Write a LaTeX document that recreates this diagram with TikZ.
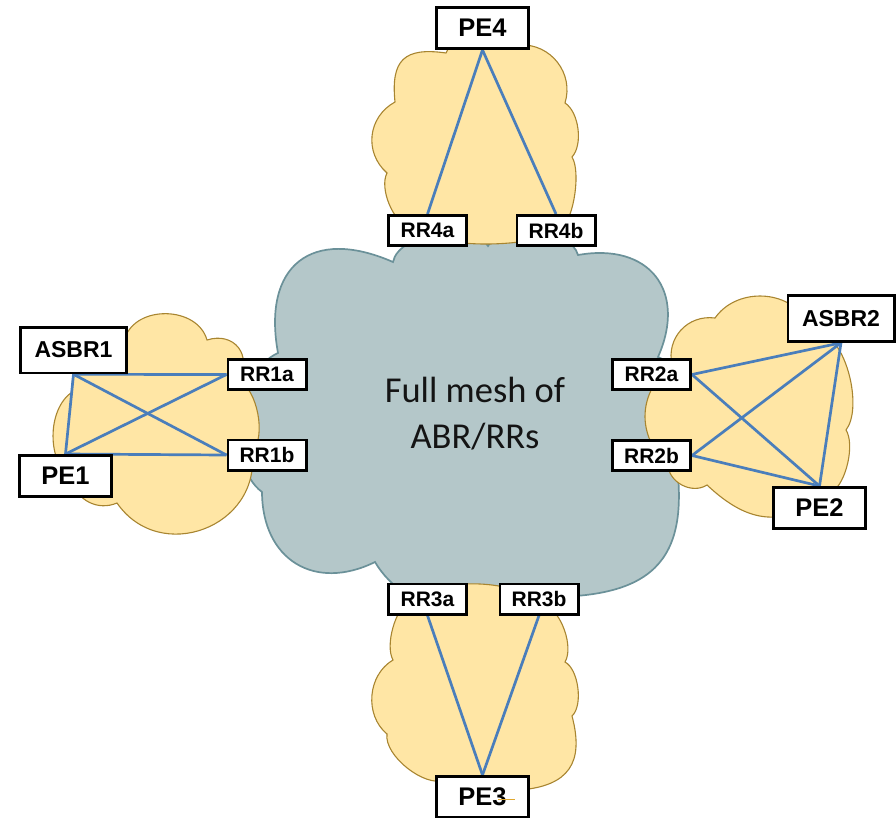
\documentclass[tikz,border=0pt]{standalone}
\usepackage{fontspec}
\setmainfont{Liberation Sans}
\newfontfamily\calib{Carlito}
\definecolor{cgrey}{HTML}{B4C7C9}
\definecolor{cgreyline}{HTML}{6B9199}
\definecolor{cyel}{HTML}{FFE6A5}
\definecolor{cyelline}{HTML}{A88530}
\definecolor{lnblue}{HTML}{4A7EBB}
\definecolor{straycol}{HTML}{E0A830}
\pgfdeclarelayer{clouds}
\pgfdeclarelayer{links}
\pgfsetlayers{clouds,links,main}
\begin{document}
\begin{tikzpicture}[x=1pt,y=-1pt,
  box/.style={draw=black, line width=2.8pt, fill=white, inner sep=0pt},
  pebox/.style={box, minimum width=92.2pt, minimum height=41.2pt, font=\fontsize{25.5}{30}\selectfont\bfseries},
  asbrbox/.style={box, minimum width=106.2pt, minimum height=45.8pt, font=\fontsize{23}{28}\selectfont\bfseries},
  rrbox/.style={box, minimum width=78.2pt, minimum height=30.2pt, font=\fontsize{21}{25}\selectfont\bfseries},
  link/.style={draw=lnblue, line width=2.7pt},
  gcloud/.style={fill=cgrey, draw=cgreyline, line width=1.7pt},
  ycloud/.style={fill=cyel, draw=cyelline, line width=1.1pt},
  bigtxt/.style={font=\calib\fontsize{36.5}{44}\selectfont, text=black!92, anchor=base, inner sep=0pt}
]
\useasboundingbox (0,0) rectangle (896,817);

\begin{pgfonlayer}{clouds}
% central grey cloud
\path[gcloud] (278,353) to[bend left=62,looseness=1.55] (393,262)
  to[bend left=70,looseness=0.78] (488,246) to[bend left=70,looseness=0.78] (578,255)
  to[bend left=62,looseness=1.43] (658,357) to[bend left=60,looseness=0.88] (674,445)
  to[bend left=50,looseness=1.45] (545,597) to[bend left=48,looseness=0.92] (375,562)
  to[bend left=58,looseness=1.3] (262,492) to[bend left=60,looseness=0.84] (278,353) -- cycle;
% top yellow cloud
\path[ycloud] (395,102) to[bend left=52,looseness=1.53] (446,53)
  to[bend left=60,looseness=1.06] (520,45) to[bend left=55,looseness=1.08] (565,103)
  to[bend left=50,looseness=0.78] (572,157) to[bend left=40,looseness=0.59] (562,228)
  to[bend left=40,looseness=0.56] (410,228) to[bend left=50,looseness=0.75] (387,173)
  to[bend left=55,looseness=1.11] (395,102) -- cycle;
% left yellow cloud
\path[ycloud] (125,338) to[bend left=73,looseness=1.1] (207,340)
  to[bend left=70,looseness=1.45] (238,380) to[bend left=55,looseness=0.74] (252,452)
  to[bend left=76,looseness=1.34] (117,503) to[bend left=50,looseness=1.06] (72,480)
  to[bend left=55,looseness=0.9] (72,392) to[bend left=45,looseness=1.28] (125,338) -- cycle;
% right yellow cloud
\path[ycloud] (672,365) to[bend left=55,looseness=1.11] (715,318)
  to[bend left=55,looseness=1.02] (805,318) to[bend left=40,looseness=0.8] (825,335)
  to[bend left=50,looseness=0.69] (846,430) to[bend left=45,looseness=0.68] (832,492)
  to[bend left=40,looseness=1.21] (707,485) to[bend left=60,looseness=1.03] (668,465)
  to[bend left=50,looseness=1.11] (672,365) -- cycle;
% bottom yellow cloud
\path[ycloud] (410,600) to[bend left=40,looseness=0.73] (545,605)
  to[bend left=50,looseness=0.74] (565,662) to[bend left=55,looseness=0.72] (572,716)
  to[bend left=50,looseness=1.38] (520,790) to[bend left=40,looseness=0.8] (445,780)
  to[bend left=60,looseness=0.75] (387,734) to[bend left=55,looseness=1.02] (393,660)
  to[bend left=45,looseness=0.69] (410,600) -- cycle;
\end{pgfonlayer}

% central label
\node[bigtxt] (t1) at (475,402.7) {Full mesh of};
\node[bigtxt] (t2) at (475,448) {ABR/RRs};

% boxes
\node[pebox] (pe4) at (482.5,28) {PE4};
\node[rrbox] (rr4a) at (427.5,230.5) {RR4a};
\node[rrbox] (rr4b) at (556,230.5) {RR4b};
\node[asbrbox] (asbr1) at (73.5,350) {ASBR1};
\node[pebox] (pe1) at (65.5,476) {PE1};
\node[rrbox] (rr1a) at (267,374.5) {RR1a};
\node[rrbox] (rr1b) at (267,455) {RR1b};
\node[rrbox] (rr2a) at (651.5,374.5) {RR2a};
\node[rrbox] (rr2b) at (651.5,455.5) {RR2b};
\node[asbrbox] (asbr2) at (841,318.5) {ASBR2};
\node[pebox] (pe2) at (819.5,508) {PE2};
\node[rrbox] (rr3a) at (427.5,599) {RR3a};
\node[rrbox] (rr3b) at (539,599) {RR3b};
\node[pebox] (pe3) at (482.5,797) {PE3};

\begin{pgfonlayer}{links}
\draw[link] (pe4.south) -- (rr4a.north);
\draw[link] (pe4.south) -- (rr4b.north);
\draw[link] (asbr1.south) -- (rr1a.west);
\draw[link] (asbr1.south) -- (rr1b.west);
\draw[link] (asbr1.south) -- (pe1.north);
\draw[link] (pe1.north) -- (rr1a.west);
\draw[link] (pe1.north) -- (rr1b.west);
\draw[link] (rr2a.east) -- (asbr2.south);
\draw[link] (rr2a.east) -- (pe2.north);
\draw[link] (rr2b.east) -- (asbr2.south);
\draw[link] (rr2b.east) -- (pe2.north);
\draw[link] (asbr2.south) -- (pe2.north);
\draw[link] (rr3a.south) -- (pe3.north);
\draw[link] (rr3b.south) -- (pe3.north);
\end{pgfonlayer}

% small stray mark on PE3
\draw[straycol, line width=0.8pt] (498,799) -- (515,799);
\end{tikzpicture}
\end{document}
